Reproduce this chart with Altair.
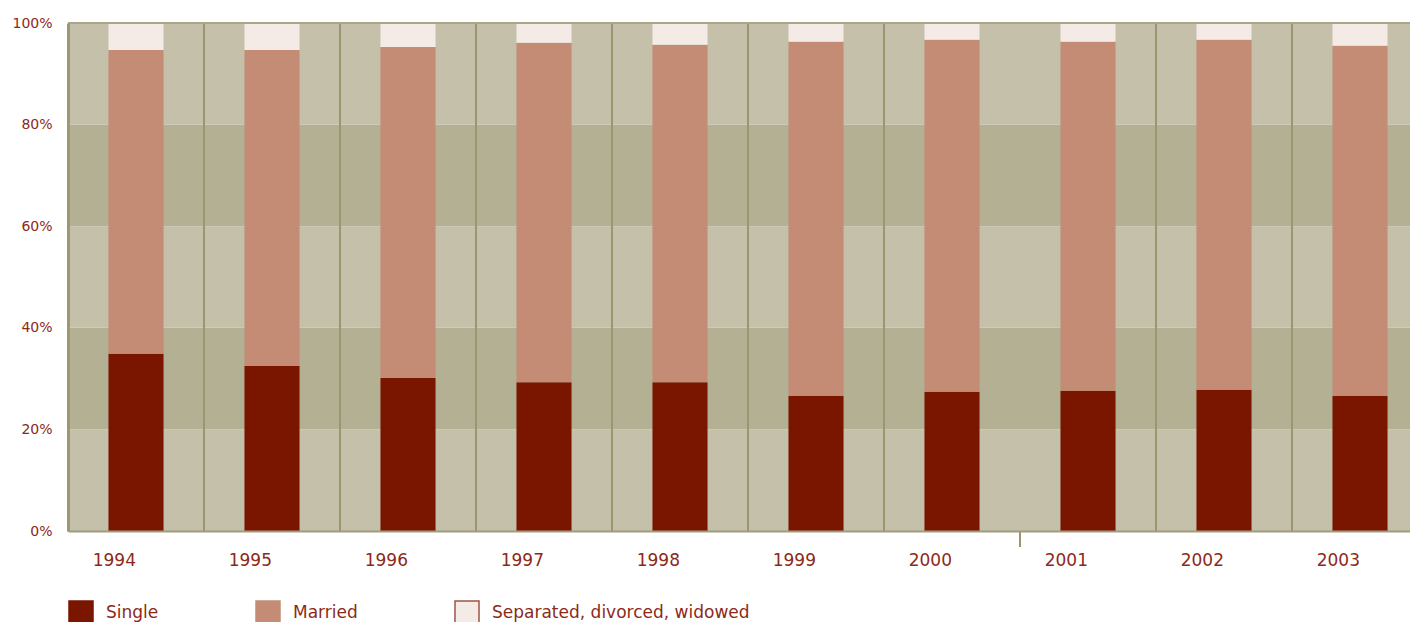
import altair as alt
import pandas as pd

years = ["1994", "1995", "1996", "1997", "1998", "1999", "2000", "2001", "2002", "2003"]
single = [34.9, 32.5, 30.1, 29.3, 29.3, 26.6, 27.4, 27.6, 27.8, 26.6]
married = [59.8, 62.2, 65.2, 66.8, 66.4, 69.7, 69.3, 68.7, 68.9, 68.9]
separated = [5.3, 5.3, 4.7, 3.9, 4.3, 3.7, 3.3, 3.7, 3.3, 4.5]

categories = ["Single", "Married", "Separated, divorced, widowed"]
fill_colors = ["#7a1500", "#c48c74", "#f4ebe6"]
stroke_colors = ["#7a1500", "#c48c74", "#a0544a"]

band_lo = [0, 20, 40, 60, 80]
band_hi = [20, 40, 60, 80, 100]
band_col = ["#c5c0a9", "#b4b093", "#c5c0a9", "#b4b093", "#c5c0a9"]

grid_years = ["1995", "1996", "1997", "1998", "1999", "2000", "2002", "2003"]
tick_years = ["2001"]

rows = []
for i, y in enumerate(years):
    for k, (c, v) in enumerate(zip(categories, [single[i], married[i], separated[i]])):
        rows.append({"year": y, "status": c, "value": v, "order": k})
df = pd.DataFrame(rows)
bands = pd.DataFrame({"lo": band_lo, "hi": band_hi, "col": band_col})
grid_df = pd.DataFrame({"year": grid_years})
tick_df = pd.DataFrame({"year": tick_years})

FONT = "DejaVu Sans"
TXT = "#8c2a18"

xscale = alt.Scale(domain=years, paddingInner=0.595, paddingOuter=0.2975, range=[0, 1360])
yscale = alt.Scale(domain=[0, 100], nice=False)

band_layer = alt.Chart(bands).mark_rect().encode(
    y=alt.Y("lo:Q", scale=yscale),
    y2="hi:Q",
    fill=alt.Fill("col:N", scale=None),
)

grid_layer = alt.Chart(grid_df).mark_rule(color="#9a9670", strokeWidth=2, xOffset=-68).encode(
    x=alt.X("year:N", scale=xscale),
    y=alt.datum(0),
    y2=alt.datum(100),
)

tick_layer = alt.Chart(tick_df).mark_rule(color="#9a9670", strokeWidth=2, xOffset=-68, y2Offset=16).encode(
    x=alt.X("year:N", scale=xscale),
    y=alt.datum(0),
    y2=alt.datum(0),
)

bars = alt.Chart(df).mark_bar(strokeWidth=0).encode(
    x=alt.X("year:N", scale=xscale, sort=years,
            axis=alt.Axis(title=None, labelAngle=0, ticks=False, labelPadding=29,
                          labelFontSize=17, labelColor=TXT, labelFont=FONT,
                          domainColor="#a09c7e", domainWidth=2, zindex=1)),
    y=alt.Y("value:Q", stack="zero", scale=yscale,
            axis=alt.Axis(title=None, values=[0, 20, 40, 60, 80, 100], ticks=False,
                          labelExpr="datum.value + '%'", labelPadding=16,
                          labelFontSize=14, labelColor=TXT, labelFont=FONT,
                          domainColor="#9c9873", domainWidth=3, grid=False, zindex=1)),
    fill=alt.Fill("status:N", scale=alt.Scale(domain=categories, range=fill_colors),
                  legend=alt.Legend(title=None, orient="bottom", direction="horizontal",
                                    symbolType="square", symbolSize=576, labelFontSize=17,
                                    labelColor=TXT, labelFont=FONT, columnPadding=94,
                                    labelOffset=12, offset=32, symbolStrokeWidth=1.5,
                                    labelLimit=500)),
    stroke=alt.Stroke("status:N", scale=alt.Scale(domain=categories, range=stroke_colors),
                      legend=alt.Legend(title=None, labelLimit=500)),
    order=alt.Order("order:Q"),
)

top_rule = alt.Chart(pd.DataFrame({"v": [100]})).mark_rule(color="#aaa68c", strokeWidth=2).encode(
    y=alt.Y("v:Q", scale=yscale)
)

chart = alt.layer(band_layer, grid_layer, tick_layer, bars, top_rule).properties(
    width=1342, height=508,
    autosize=alt.AutoSizeParams(type="none"),
    padding={"left": 60, "top": 15, "right": 0, "bottom": 92},
).configure_view(stroke=None).configure(background="white")

chart.save("out.html", embed_options={"renderer": "svg", "actions": False})
